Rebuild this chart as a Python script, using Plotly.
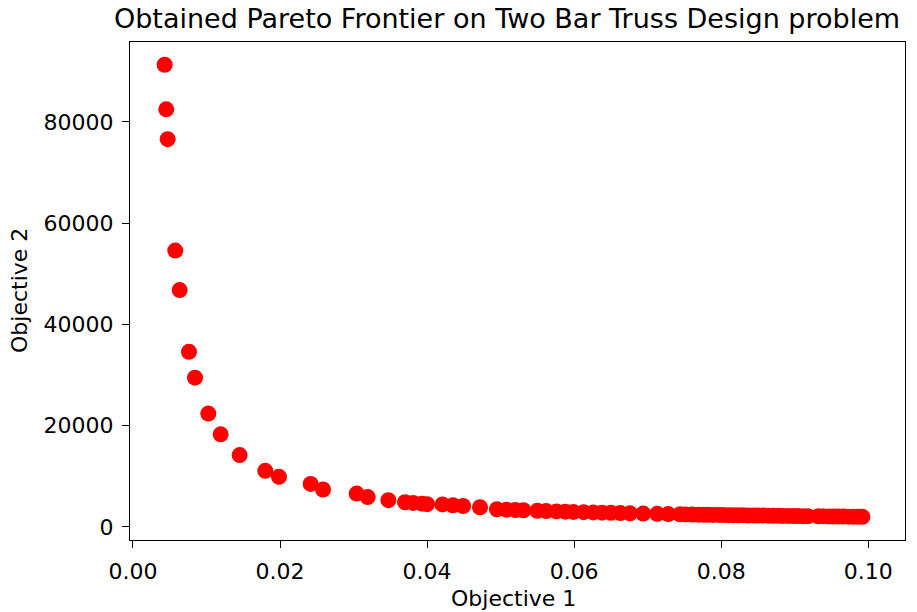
import plotly.graph_objects as go

# Pareto front of the two-bar truss problem: (volume, stress) pairs
objective_1 = [
    0.00431, 0.00453, 0.00472, 0.00576, 0.00635, 0.00762, 0.00844, 0.01025,
    0.01193, 0.01451, 0.01800, 0.01986, 0.02417, 0.02585, 0.03043, 0.03193,
    0.03474, 0.0370, 0.0381, 0.0393, 0.0400, 0.0421, 0.0435, 0.0449, 0.0472,
    0.0495, 0.0508, 0.0520, 0.0531, 0.0550, 0.0562, 0.0576, 0.0588, 0.0599,
    0.0613, 0.0626, 0.0638, 0.0650, 0.0663, 0.0676, 0.0694, 0.0713, 0.0728,
    0.0744, 0.0752, 0.0761, 0.0769, 0.0776, 0.0782, 0.0789, 0.0796, 0.0803,
    0.0810, 0.0816, 0.0823, 0.0830, 0.0837, 0.0844, 0.0850, 0.0857, 0.0864,
    0.0871, 0.0878, 0.0884, 0.0891, 0.0898, 0.0905, 0.0912, 0.0918, 0.0932,
    0.0939, 0.0946, 0.0952, 0.0959, 0.0966, 0.0973, 0.0980, 0.0986, 0.0992,
]
objective_2 = [
    91300, 82500, 76600, 54600, 46800, 34600, 29500, 22400,
    18300, 14200, 11100, 9900, 8500, 7400, 6600, 5900,
    5300, 4900, 4750, 4600, 4500, 4450, 4300, 4150, 3900,
    3500, 3420, 3350, 3300, 3200, 3140, 3080, 3030, 2980,
    2930, 2880, 2830, 2790, 2750, 2700, 2650, 2590, 2550,
    2500, 2480, 2460, 2440, 2420, 2410, 2390, 2380, 2360,
    2340, 2330, 2320, 2300, 2290, 2270, 2260, 2250, 2230,
    2220, 2200, 2190, 2180, 2170, 2150, 2140, 2130, 2110,
    2100, 2080, 2070, 2060, 2050, 2040, 2030, 2020, 2010,
]

x_ticks = [0.00, 0.02, 0.04, 0.06, 0.08, 0.10]
x_tick_text = ["0.00", "0.02", "0.04", "0.06", "0.08", "0.10"]
y_ticks = [0, 20000, 40000, 60000, 80000]
y_tick_text = ["0", "20000", "40000", "60000", "80000"]

FONT = "DejaVu Sans"
W, H = 917, 612
L, R, T, B = 130, 12, 42, 72
PW, PH = W - L - R, H - T - B

fig = go.Figure(
    go.Scatter(
        x=objective_1,
        y=objective_2,
        mode="markers",
        marker=dict(color="#ff0000", size=16, line=dict(width=0)),
        showlegend=False,
    )
)

axis_common = dict(
    showgrid=False,
    zeroline=False,
    showline=True,
    linecolor="black",
    linewidth=1.3,
    mirror=True,
    ticks="outside",
    ticklen=7,
    tickwidth=1.3,
    tickcolor="black",
    tickfont=dict(family=FONT, size=22, color="black"),
    automargin=False,
    ticklabelstandoff=4,
)

fig.update_layout(
    width=W,
    height=H,
    margin=dict(l=L, r=R, t=T, b=B),
    paper_bgcolor="white",
    plot_bgcolor="white",
    font=dict(family=FONT, color="black"),
    title=dict(
        text="Obtained Pareto Frontier on Two Bar Truss Design problem",
        font=dict(family=FONT, size=27, color="black"),
        x=507 / W,
        xref="container",
        xanchor="center",
        y=1 - 19 / H,
        yref="container",
        yanchor="middle",
    ),
    xaxis=dict(
        **axis_common,
        range=[-0.0004, 0.1050],
        tickvals=x_ticks,
        ticktext=x_tick_text,
    ),
    yaxis=dict(
        **axis_common,
        range=[-2570, 95790],
        tickvals=y_ticks,
        ticktext=y_tick_text,
    ),
    annotations=[
        dict(
            text="Objective 1",
            xref="paper", yref="paper",
            x=(513 - L) / PW, y=-(598 - (T + PH)) / PH,
            xanchor="center", yanchor="middle",
            showarrow=False,
            font=dict(family=FONT, size=22, color="black"),
        ),
        dict(
            text="Objective 2",
            xref="paper", yref="paper",
            x=-(L - 19) / PW, y=(T + PH - 291) / PH,
            xanchor="center", yanchor="middle",
            textangle=-90,
            showarrow=False,
            font=dict(family=FONT, size=22, color="black"),
        ),
    ],
)

fig.write_html("out.html")
